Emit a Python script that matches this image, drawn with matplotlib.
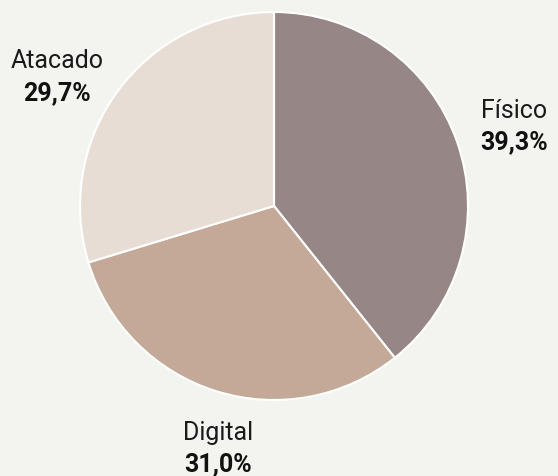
import matplotlib.pyplot as plt

plt.rcParams['font.family'] = ['Roboto', 'DejaVu Sans']

labels = ['Físico', 'Digital', 'Atacado']
values = [39.3, 31.0, 29.7]
colors = ['#968685', '#c4a898', '#e8ddd4']
pct_text = ['39,3%', '31,0%', '29,7%']
# label anchor positions (data units, pie radius = 1)
label_pos = [(1.24, 0.41), (-0.29, -1.25), (-1.12, 0.665)]

bg = '#f3f4ef'
fig = plt.figure(figsize=(5.58, 4.76), dpi=100, facecolor=bg)
ax = fig.add_axes([0.1434, 0.1597, 0.6953, 0.8151])
ax.set_facecolor(bg)

ax.pie(values, colors=colors, startangle=90, counterclock=False,
       wedgeprops=dict(edgecolor='white', linewidth=1.5))

for (x, y), name, pct in zip(label_pos, labels, pct_text):
    ax.text(x, y + 0.082, name, ha='center', va='center', fontsize=18,
            color='#1a1a1a', clip_on=False)
    ax.text(x, y - 0.082, pct, ha='center', va='center', fontsize=18,
            fontweight='bold', color='#111111', clip_on=False)

ax.set_xlim(-1, 1)
ax.set_ylim(-1, 1)
ax.set_aspect('equal')
ax.axis('off')

plt.savefig('out.png', dpi=100, facecolor=bg)
